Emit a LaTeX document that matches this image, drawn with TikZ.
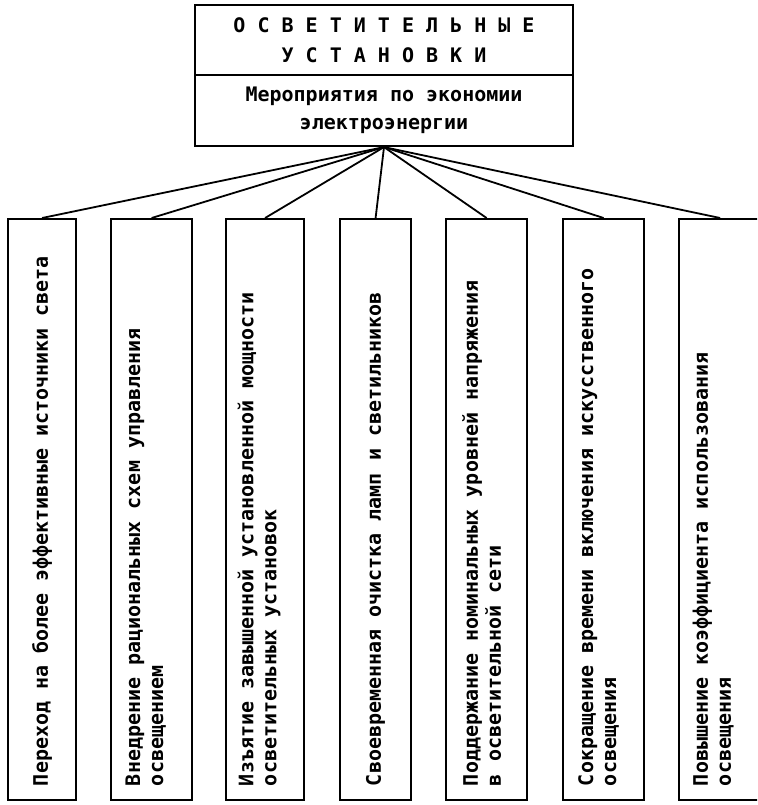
\documentclass[tikz,border=0pt]{standalone}
\usepackage{fontspec}
\setmonofont{DejaVu Sans Mono}
\begin{document}
\begin{tikzpicture}[x=1pt,y=-1pt,
  box/.style={draw, line width=2.2pt, inner sep=0pt},
  lbl/.style={font=\ttfamily\bfseries\fontsize{20}{23}\selectfont, rotate=90, anchor=west, align=left, inner sep=0pt},
  conn/.style={line width=1.8pt}]
\useasboundingbox (0,0) rectangle (757,805);
\clip (0,0) rectangle (757,805);
% top box
\node[box, minimum width=378pt, minimum height=70pt, align=center,
      font=\ttfamily\bfseries\fontsize{20}{30}\selectfont] (t1) at (384,40)
  {О С В Е Т И Т Е Л Ь Н Ы Е\\У С Т А Н О В К И};
\node[box, minimum width=378pt, minimum height=71pt, align=center,
      font=\ttfamily\bfseries\fontsize{20}{28}\selectfont] (t2) at (384,110.5)
  {Мероприятия по экономии\\электроэнергии};
% bottom boxes
\node[box, anchor=north west, minimum width=68pt, minimum height=581pt] (b1) at (7,218) {};
\node[box, anchor=north west, minimum width=81pt, minimum height=581pt] (b2) at (110,218) {};
\node[box, anchor=north west, minimum width=78pt, minimum height=581pt] (b3) at (225,218) {};
\node[box, anchor=north west, minimum width=71pt, minimum height=581pt] (b4) at (339,218) {};
\node[box, anchor=north west, minimum width=81pt, minimum height=581pt] (b5) at (445,218) {};
\node[box, anchor=north west, minimum width=81pt, minimum height=581pt] (b6) at (562,218) {};
\node[box, anchor=north west, minimum width=82pt, minimum height=581pt] (b7) at (678,218) {};
% labels
\node[lbl] (l1) at ([yshift=15pt]b1.south) {Переход на более эффективные источники света};
\node[lbl] (l2) at ([xshift=-6pt,yshift=15pt]b2.south) {Внедрение рациональных схем управления\\освещением};
\node[lbl] (l3) at ([xshift=-6pt,yshift=15pt]b3.south) {Изъятие завышенной установленной мощности\\осветительных установок};
\node[lbl] (l4) at ([yshift=15pt]b4.south) {Своевременная очистка ламп и светильников};
\node[lbl] (l5) at ([xshift=-5pt,yshift=15pt]b5.south) {Поддержание номинальных уровней напряжения\\в осветительной сети};
\node[lbl] (l6) at ([xshift=-5pt,yshift=15pt]b6.south) {Сокращение времени включения искусственного\\освещения};
\node[lbl] (l7) at ([xshift=-7pt,yshift=15pt]b7.south) {Повышение коэффициента использования\\освещения};
% connectors
\foreach \b in {b1,b2,b3,b4,b5,b6,b7}
  \draw[conn] (t2.south) -- (\b.north);
\end{tikzpicture}
\end{document}
